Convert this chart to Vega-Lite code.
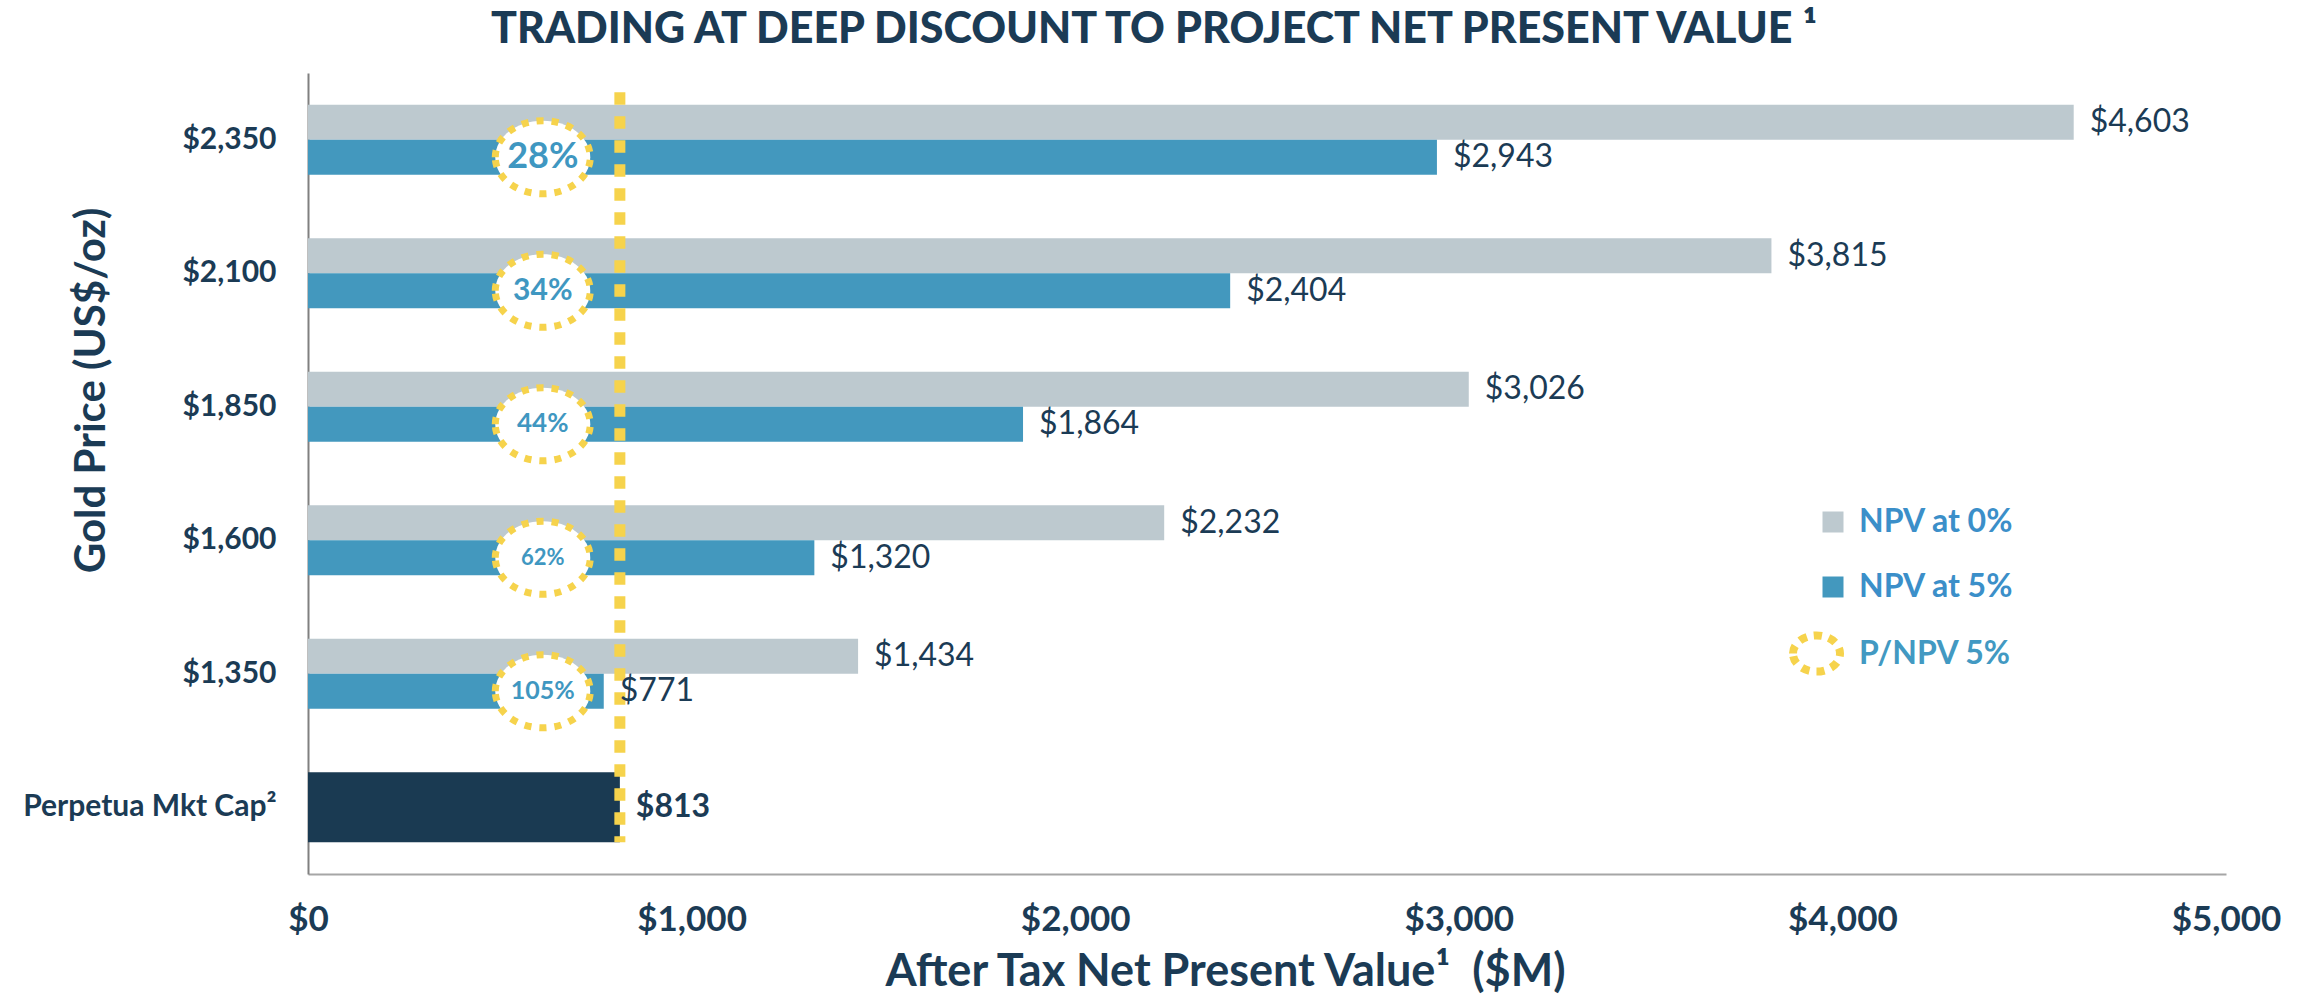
{
  "$schema": "https://vega.github.io/schema/vega-lite/v6.json",
  "width": 1918,
  "height": 801,
  "autosize": {"type": "none"},
  "padding": {"left": 308, "top": 73, "right": 82, "bottom": 123},
  "background": "white",
  "title": {
    "text": "TRADING AT DEEP DISCOUNT TO PROJECT NET PRESENT VALUE ¹",
    "font": "Lato",
    "fontSize": 43,
    "fontWeight": 900,
    "color": "#1b3b55",
    "anchor": "middle",
    "baseline": "alphabetic",
    "offset": -13,
    "dx": -113
  },
  "datasets": {
    "bars": [
      {"cat": "$2,350", "series": "NPV at 0%", "value": 4603},
      {"cat": "$2,350", "series": "NPV at 5%", "value": 2943},
      {"cat": "$2,100", "series": "NPV at 0%", "value": 3815},
      {"cat": "$2,100", "series": "NPV at 5%", "value": 2404},
      {"cat": "$1,850", "series": "NPV at 0%", "value": 3026},
      {"cat": "$1,850", "series": "NPV at 5%", "value": 1864},
      {"cat": "$1,600", "series": "NPV at 0%", "value": 2232},
      {"cat": "$1,600", "series": "NPV at 5%", "value": 1320},
      {"cat": "$1,350", "series": "NPV at 0%", "value": 1434},
      {"cat": "$1,350", "series": "NPV at 5%", "value": 771}
    ],
    "pct": [
      {"cat": "$2,350", "series": "NPV at 5%", "pct": "28%", "legend": "P/NPV 5%"},
      {"cat": "$2,100", "series": "NPV at 5%", "pct": "34%", "legend": "P/NPV 5%"},
      {"cat": "$1,850", "series": "NPV at 5%", "pct": "44%", "legend": "P/NPV 5%"},
      {"cat": "$1,600", "series": "NPV at 5%", "pct": "62%", "legend": "P/NPV 5%"},
      {"cat": "$1,350", "series": "NPV at 5%", "pct": "105%", "legend": "P/NPV 5%"}
    ],
    "cap": [
      {"cat": "Perpetua Mkt Cap²", "value": 813}
    ]
  },
  "layer": [
    {
      "data": {"name": "bars"},
      "mark": {"type": "bar"},
      "encoding": {
        "y": {
          "field": "cat",
          "type": "nominal",
          "scale": {
            "domain": ["$2,350", "$2,100", "$1,850", "$1,600", "$1,350", "Perpetua Mkt Cap²"],
            "paddingInner": 0.4757,
            "paddingOuter": 0.2378
          },
          "axis": {
            "title": "Gold Price (US$/oz)",
            "titleFontSize": 42,
            "titleFontWeight": "bold",
            "titleAngle": -90,
            "titleX": -217,
            "titleY": 317,
            "titleAlign": "center",
            "titleBaseline": "middle",
            "labelFontSize": 30,
            "labelFontWeight": "bold",
            "labelPadding": 32,
            "labelLimit": 400,
            "domainColor": "#808080",
            "domainWidth": 2
          }
        },
        "yOffset": {
          "field": "series",
          "type": "nominal",
          "scale": {"domain": ["NPV at 0%", "NPV at 5%"], "paddingInner": 0, "paddingOuter": 0}
        },
        "x": {
          "field": "value",
          "type": "quantitative",
          "scale": {"domain": [0, 5000], "nice": false},
          "axis": {
            "title": "After Tax Net Present Value¹\u00a0 ($M)",
            "values": [0, 1000, 2000, 3000, 4000, 5000],
            "format": "$,.0f",
            "labelFontSize": 35,
            "labelFontWeight": "bold",
            "labelPadding": 28,
            "labelFlush": false,
            "labelOverlap": false,
            "domainColor": "#a6a6a6",
            "domainWidth": 2,
            "titleFontSize": 45,
            "titleFontWeight": "bold",
            "titleX": 917,
            "titleY": 111,
            "titleBaseline": "alphabetic"
          }
        },
        "color": {
          "field": "series",
          "type": "nominal",
          "scale": {"domain": ["NPV at 0%", "NPV at 5%"], "range": ["#bdc9cf", "#4398be"]},
          "legend": {
            "title": null,
            "orient": "none",
            "legendX": 1509,
            "legendY": 433,
            "symbolType": "square",
            "symbolSize": 441,
            "symbolStrokeWidth": 0,
            "labelFont": "Lato",
            "labelFontSize": 32,
            "labelFontWeight": "bold",
            "labelColor": "#3b8fc9",
            "labelOffset": 10,
            "rowPadding": 33
          }
        }
      }
    },
    {
      "data": {"name": "cap"},
      "mark": {"type": "bar", "color": "#1a3a52"},
      "encoding": {
        "y": {"field": "cat", "type": "nominal"},
        "x": {"field": "value", "type": "quantitative"}
      }
    },
    {
      "data": {"name": "cap"},
      "mark": {"type": "rule", "color": "#f6d34c", "strokeWidth": 11, "strokeDash": [12.5, 11.5], "strokeCap": "butt"},
      "encoding": {
        "x": {"field": "value", "type": "quantitative"},
        "y": {"datum": "$2,350", "bandPosition": -0.18},
        "y2": {"datum": "Perpetua Mkt Cap²", "bandPosition": 1}
      }
    },
    {
      "data": {"name": "pct"},
      "mark": {
        "type": "point",
        "shape": "M -1 0 A 1 0.77 0 1 1 1 0 A 1 0.77 0 1 1 -1 0 Z",
        "size": 9025,
        "filled": true,
        "fill": "white",
        "fillOpacity": 1,
        "strokeOpacity": 1,
        "strokeWidth": 7,
        "strokeDash": [7, 8]
      },
      "encoding": {
        "x": {"datum": 612, "type": "quantitative"},
        "y": {"field": "cat", "type": "nominal"},
        "yOffset": {"field": "series", "type": "nominal"},
        "stroke": {
          "field": "legend",
          "type": "nominal",
          "scale": {"domain": ["P/NPV 5%"], "range": ["#f6d34c"]},
          "legend": {
            "title": null,
            "orient": "none",
            "legendX": 1481,
            "legendY": 553,
            "symbolType": "M -1 0 A 1 0.77 0 1 1 1 0 A 1 0.77 0 1 1 -1 0 Z",
            "symbolSize": 2209,
            "symbolStrokeWidth": 8,
            "symbolDash": [8, 7],
            "symbolFillColor": "white",
            "symbolStrokeColor": "#f6d34c",
            "labelFont": "Lato",
            "labelFontSize": 32,
            "labelFontWeight": "bold",
            "labelColor": "#4299c2",
            "labelOffset": 15
          }
        }
      }
    },
    {
      "data": {"name": "pct"},
      "mark": {"type": "text", "font": "Lato", "fontWeight": "bold", "color": "#3f97c1", "align": "center", "baseline": "middle"},
      "encoding": {
        "x": {"datum": 612, "type": "quantitative"},
        "y": {"field": "cat", "type": "nominal"},
        "yOffset": {"field": "series", "type": "nominal"},
        "text": {"field": "pct", "type": "nominal"},
        "size": {
          "field": "cat",
          "type": "ordinal",
          "scale": {"type": "ordinal", "domain": ["$2,350", "$2,100", "$1,850", "$1,600", "$1,350"], "range": [36, 30, 26, 22, 25]},
          "legend": null
        }
      }
    },
    {
      "data": {"name": "bars"},
      "mark": {"type": "text", "font": "Lato", "fontSize": 32, "color": "#1b3b55", "align": "left", "baseline": "middle", "dx": 16},
      "encoding": {
        "x": {"field": "value", "type": "quantitative"},
        "y": {"field": "cat", "type": "nominal"},
        "yOffset": {"field": "series", "type": "nominal"},
        "text": {"field": "value", "type": "quantitative", "format": "$,.0f"}
      }
    },
    {
      "data": {"name": "cap"},
      "mark": {"type": "text", "font": "Lato", "fontSize": 32, "fontWeight": "bold", "color": "#1b3b55", "align": "left", "baseline": "middle", "dx": 16},
      "encoding": {
        "x": {"field": "value", "type": "quantitative"},
        "y": {"field": "cat", "type": "nominal"},
        "text": {"field": "value", "type": "quantitative", "format": "$,.0f"}
      }
    }
  ],
  "config": {
    "font": "Lato",
    "view": {"stroke": null},
    "axis": {
      "grid": false,
      "ticks": false,
      "labelFont": "Lato",
      "titleFont": "Lato",
      "labelColor": "#1b3b55",
      "titleColor": "#1b3b55"
    }
  }
}
